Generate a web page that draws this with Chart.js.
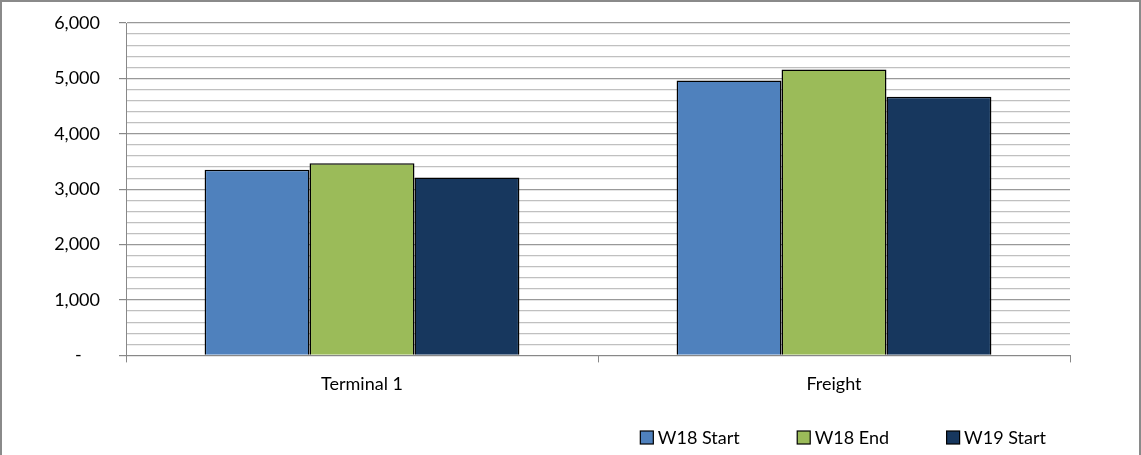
<!DOCTYPE html>
<html>
<head>
<meta charset="utf-8">
<script src="https://cdn.jsdelivr.net/npm/chart.js@4.4.0/dist/chart.umd.min.js"></script>
<style>
  html, body { margin: 0; padding: 0; background: #fff; }
  .chart-box {
    width: 1141px;
    height: 455px;
    box-sizing: border-box;
    border-left: 2px solid #8a8a8a;
    border-top: 2px solid #8a8a8a;
    border-right: 2px solid #8a8a8a;
  }
  .chart-box canvas { display: block; }
</style>
</head>
<body>
<div class="chart-box">
  <canvas id="weekChart" width="1137" height="453"></canvas>
</div>
<script>
// values
const categories = ['Terminal 1', 'Freight'];
const seriesNames = ['W18 Start', 'W18 End', 'W19 Start'];
const w18Start = [3350, 4960];
const w18End = [3470, 5160];
const w19Start = [3210, 4670];
const yTickLabels = ['-', '1,000', '2,000', '3,000', '4,000', '5,000', '6,000'];

const colors = ['#4f81bd', '#9bbb59', '#17375e'];

// Excel style legend, bottom right
const bottomLegend = {
  id: 'bottomLegend',
  afterDraw(chart) {
    const ctx = chart.ctx;
    const box = 13, gap = 5, spacing = 57;
    ctx.save();
    ctx.font = '18px Lato';
    ctx.textBaseline = 'middle';
    const items = chart.data.datasets.map(ds => ({
      text: ds.label,
      color: ds.backgroundColor,
      w: box + gap + ctx.measureText(ds.label).width
    }));
    const total = items.reduce((s, it) => s + it.w, 0) + spacing * (items.length - 1);
    let x = chart.chartArea.right - 24 - total;
    const y = chart.height - 18;
    items.forEach(it => {
      ctx.fillStyle = it.color;
      ctx.fillRect(x + 0.5, y - box / 2 + 0.5, box, box);
      ctx.strokeStyle = '#000';
      ctx.lineWidth = 1.2;
      ctx.strokeRect(x + 0.5, y - box / 2 + 0.5, box, box);
      ctx.fillStyle = '#000';
      ctx.fillText(it.text, x + box + gap, y + 1);
      x += it.w + spacing;
    });
    ctx.restore();
  }
};

Chart.defaults.font.family = 'Lato';
Chart.defaults.font.size = 18;
Chart.defaults.color = '#000';

const ctx = document.getElementById('weekChart').getContext('2d');
new Chart(ctx, {
  type: 'bar',
  data: {
    labels: categories,
    datasets: [
      { label: seriesNames[0], data: w18Start, backgroundColor: colors[0] },
      { label: seriesNames[1], data: w18End, backgroundColor: colors[1] },
      { label: seriesNames[2], data: w19Start, backgroundColor: colors[2] }
    ].map(ds => Object.assign(ds, {
      borderColor: '#000',
      borderWidth: 1.5,
      borderSkipped: 'start',
      barPercentage: 1,
      categoryPercentage: 0.667
    }))
  },
  options: {
    responsive: false,
    animation: false,
    layout: { padding: { top: 21, right: 69, bottom: 49, left: 0 } },
    plugins: {
      legend: { display: false },
      tooltip: { enabled: false }
    },
    scales: {
      x: {
        grid: {
          drawOnChartArea: false,
          drawTicks: true,
          tickLength: 7,
          tickColor: '#888'
        },
        border: { color: '#888', width: 1 },
        ticks: { padding: 11 }
      },
      y: {
        min: 0,
        max: 6000,
        afterFit(scale) {
          scale.width = 124;
          // label padding would otherwise push the plot down
          scale.paddingTop = 0;
          scale.paddingBottom = 0;
        },
        grid: {
          color: c => (c.tick && c.tick.value % 1000 === 0) ? '#999999' : '#c0c0c0',
          tickColor: c => (c.tick && c.tick.value % 1000 === 0) ? '#888' : 'rgba(0,0,0,0)',
          tickLength: 7,
          lineWidth: 1.2
        },
        border: { color: '#888', width: 1 },
        ticks: {
          stepSize: 200,
          autoSkip: false,
          padding: 19,
          callback: value => {
            if (value % 1000 !== 0) return '';
            const label = yTickLabels[value / 1000];
            return label === '-' ? label + '    ' : label;
          }
        }
      }
    }
  },
  plugins: [bottomLegend]
});
</script>
</body>
</html>
